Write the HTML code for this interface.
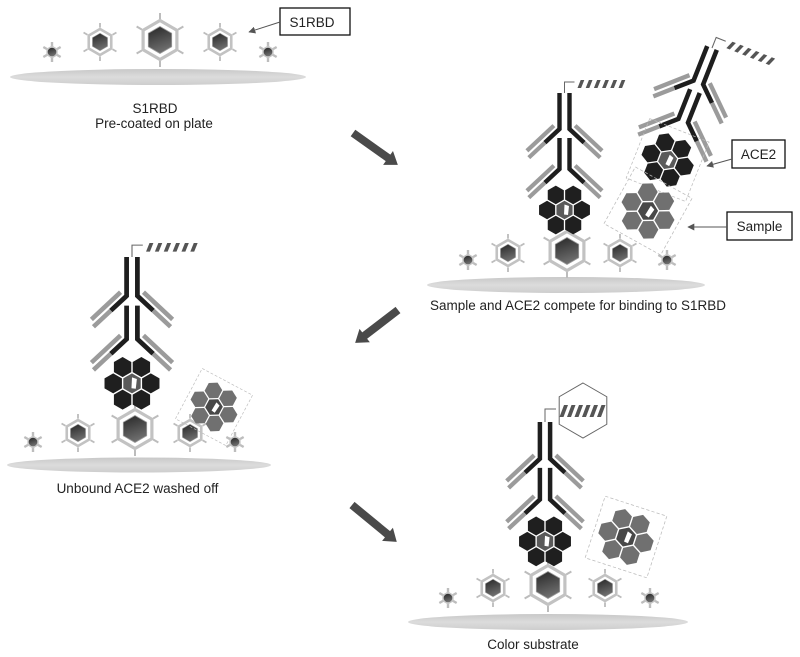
<!DOCTYPE html>
<html><head><meta charset="utf-8"><style>
html,body{margin:0;padding:0;background:#fff;}
svg{display:block;}
text{font-family:"Liberation Sans",Arial,sans-serif;fill:#222;}
</style></head><body>
<svg width="800" height="657" viewBox="0 0 800 657" xmlns="http://www.w3.org/2000/svg" xmlns:xlink="http://www.w3.org/1999/xlink">
<defs>
  <linearGradient id="dk" x1="0" y1="0" x2="0.3" y2="1">
    <stop offset="0" stop-color="#262626"/><stop offset="1" stop-color="#6e6e6e"/>
  </linearGradient>
  <linearGradient id="pl" x1="0" y1="0" x2="0" y2="1">
    <stop offset="0" stop-color="#c8c8c8"/><stop offset="0.5" stop-color="#dcdcdc"/><stop offset="1" stop-color="#cdcdcd"/>
  </linearGradient>
  <marker id="ah" viewBox="0 0 10 10" refX="9" refY="5" markerWidth="7" markerHeight="7" orient="auto" markerUnits="userSpaceOnUse">
    <path d="M0,0 L10,5 L0,10 z" fill="#555"/>
  </marker>

  <!-- large S1RBD -->
  <g id="L">
    <g stroke="#bcbcbc" stroke-width="2">
      <line x1="0" y1="-21" x2="0" y2="-27"/>
      <line x1="18.19" y1="-10.5" x2="23.38" y2="-13.5"/>
      <line x1="18.19" y1="10.5" x2="23.38" y2="13.5"/>
      <line x1="0" y1="21" x2="0" y2="27"/>
      <line x1="-18.19" y1="10.5" x2="-23.38" y2="13.5"/>
      <line x1="-18.19" y1="-10.5" x2="-23.38" y2="-13.5"/>
    </g>
    <polygon points="0,-19.5 16.89,-9.75 16.89,9.75 0,19.5 -16.89,9.75 -16.89,-9.75" fill="none" stroke="#c2c2c2" stroke-width="3.2"/>
    <polygon points="0,-13.5 11.69,-6.75 11.69,6.75 0,13.5 -11.69,6.75 -11.69,-6.75" fill="url(#dk)" stroke="#9a9a9a" stroke-width="0.8"/>
  </g>
  <!-- medium -->
  <g id="M">
    <g stroke="#bcbcbc" stroke-width="1.8">
      <line x1="0" y1="-14.5" x2="0" y2="-19"/>
      <line x1="12.56" y1="-7.25" x2="16.45" y2="-9.5"/>
      <line x1="12.56" y1="7.25" x2="16.45" y2="9.5"/>
      <line x1="0" y1="14.5" x2="0" y2="19"/>
      <line x1="-12.56" y1="7.25" x2="-16.45" y2="9.5"/>
      <line x1="-12.56" y1="-7.25" x2="-16.45" y2="-9.5"/>
    </g>
    <polygon points="0,-13 11.26,-6.5 11.26,6.5 0,13 -11.26,6.5 -11.26,-6.5" fill="none" stroke="#c2c2c2" stroke-width="2.6"/>
    <polygon points="0,-8.7 7.53,-4.35 7.53,4.35 0,8.7 -7.53,4.35 -7.53,-4.35" fill="url(#dk)" stroke="#9a9a9a" stroke-width="0.6"/>
  </g>
  <!-- small -->
  <g id="S">
    <g stroke="#bdbdbd" stroke-width="2.4">
      <line x1="0" y1="-10" x2="0" y2="10"/>
      <line x1="-8.66" y1="-5" x2="8.66" y2="5"/>
      <line x1="-8.66" y1="5" x2="8.66" y2="-5"/>
    </g>
    <polygon points="0,-6.5 5.63,-3.25 5.63,3.25 0,6.5 -5.63,3.25 -5.63,-3.25" fill="#c6c6c6"/>
    <circle r="4.3" fill="url(#dk)"/>
  </g>

  <polygon id="hx" points="0,-9.3 8.05,-4.65 8.05,4.65 0,9.3 -8.05,4.65 -8.05,-4.65"/>
  <!-- ACE2 cluster -->
  <g id="ace">
    <g fill="#1f1f1f">
      <use xlink:href="#hx" x="-8.7" y="-15.07"/>
      <use xlink:href="#hx" x="8.7" y="-15.07"/>
      <use xlink:href="#hx" x="-17.4" y="0"/>
      <use xlink:href="#hx" x="17.4" y="0"/>
      <use xlink:href="#hx" x="-8.7" y="15.07"/>
      <use xlink:href="#hx" x="8.7" y="15.07"/>
    </g>
    <use xlink:href="#hx" fill="#5a5a5a"/>
    <polygon points="0,-5.5 4.5,-4 3.5,5 -0.5,4.5" fill="#fff"/>
  </g>
  <!-- Sample cluster -->
  <g id="smp">
    <g fill="#707070">
      <use xlink:href="#hx" x="-8.7" y="-15.07"/>
      <use xlink:href="#hx" x="8.7" y="-15.07"/>
      <use xlink:href="#hx" x="-17.4" y="0"/>
      <use xlink:href="#hx" x="17.4" y="0"/>
      <use xlink:href="#hx" x="-8.7" y="15.07"/>
      <use xlink:href="#hx" x="8.7" y="15.07"/>
    </g>
    <use xlink:href="#hx" fill="#484848"/>
    <polygon points="0,-5.5 4.5,-4 3.5,5 -0.5,4.5" fill="#fff"/>
  </g>

  <!-- antibody half (left side) -->
  <g id="half">
    <polyline points="-5,0 -5,36 -19.6,49.6" stroke="#1e1e1e" stroke-width="4.4" fill="none"/>
    <line x1="-19.6" y1="49.6" x2="-35.7" y2="64.6" stroke="#9b9b9b" stroke-width="4.2"/>
    <line x1="-10.6" y1="32.6" x2="-37.6" y2="57.8" stroke="#9b9b9b" stroke-width="4.2"/>
    <polyline points="-5,45 -5,76 -19.6,89.6" stroke="#1e1e1e" stroke-width="4.4" fill="none"/>
    <line x1="-19.6" y1="89.6" x2="-35.7" y2="104.6" stroke="#9b9b9b" stroke-width="4.2"/>
    <line x1="-10.6" y1="72.6" x2="-37.6" y2="97.8" stroke="#9b9b9b" stroke-width="4.2"/>
  </g>
  <g id="abbody">
    <use xlink:href="#half"/>
    <use xlink:href="#half" transform="scale(-1,1)"/>
    <use xlink:href="#ace" x="0" y="117"/>
  </g>
  <g id="hatch" fill="#555">
    <polygon points="16.2,-13 19.8,-13 16.6,-5 13,-5"/>
    <polygon points="24.4,-13 28,-13 24.8,-5 21.2,-5"/>
    <polygon points="32.6,-13 36.2,-13 33,-5 29.4,-5"/>
    <polygon points="40.8,-13 44.4,-13 41.2,-5 37.6,-5"/>
    <polygon points="49,-13 52.6,-13 49.4,-5 45.8,-5"/>
    <polygon points="57.2,-13 60.8,-13 57.6,-5 54,-5"/>
  </g>
  <g id="ab">
    <path d="M0,0 V-11 H10" stroke="#666" stroke-width="1" fill="none"/>
    <use xlink:href="#hatch"/>
    <use xlink:href="#abbody"/>
  </g>
</defs>

<!-- ===== Panel 1: top-left ===== -->
<ellipse cx="158" cy="77" rx="148" ry="8" fill="url(#pl)"/>
<use xlink:href="#S" x="52" y="52"/>
<use xlink:href="#M" x="100" y="42"/>
<use xlink:href="#L" x="160" y="40"/>
<use xlink:href="#M" x="220" y="42"/>
<use xlink:href="#S" x="268" y="52"/>
<rect x="280" y="8" width="70" height="27" fill="#fff" stroke="#111" stroke-width="1.3"/>
<text x="312" y="27" font-size="13.5" text-anchor="middle">S1RBD</text>
<line x1="280" y1="22" x2="249" y2="32" stroke="#555" stroke-width="1" marker-end="url(#ah)"/>
<text x="155" y="113" font-size="13.5" text-anchor="middle">S1RBD</text>
<text x="154" y="128" font-size="13.5" text-anchor="middle">Pre-coated on plate</text>

<!-- Arrow 1 -->
<polygon transform="translate(353,133) rotate(35.4)" points="0,-4 43,-4 43,-8.5 55,0 43,8.5 43,4 0,4" fill="#4a4a4a"/>

<!-- ===== Panel 2: top-right ===== -->
<ellipse cx="566" cy="285" rx="139" ry="8" fill="url(#pl)"/>
<use xlink:href="#S" x="468" y="260"/>
<use xlink:href="#M" x="508" y="253"/>
<use xlink:href="#L" x="567" y="251"/>
<use xlink:href="#M" x="620" y="253"/>
<use xlink:href="#S" x="667" y="260"/>
<use xlink:href="#ab" transform="translate(564.5,93)"/>
<g transform="translate(712,48) rotate(21.6) scale(1.03)">
  <use xlink:href="#ab"/>
  <rect x="-31" y="86" width="62" height="62" fill="none" stroke="#bbb" stroke-width="0.7" stroke-dasharray="3,2"/>
</g>
<g transform="translate(648,211) rotate(29) scale(1.08)">
  <rect x="-30" y="-30" width="60" height="60" fill="none" stroke="#bbb" stroke-width="0.7" stroke-dasharray="3,2"/>
  <use xlink:href="#smp"/>
</g>
<rect x="732" y="140" width="53" height="28" fill="#fff" stroke="#111" stroke-width="1.3"/>
<text x="758.5" y="159" font-size="13.5" text-anchor="middle">ACE2</text>
<line x1="732" y1="159" x2="707" y2="166" stroke="#555" stroke-width="1" marker-end="url(#ah)"/>
<rect x="727" y="212" width="65" height="28" fill="#fff" stroke="#111" stroke-width="1.3"/>
<text x="759.5" y="231" font-size="13.5" text-anchor="middle">Sample</text>
<line x1="727" y1="227" x2="688" y2="227" stroke="#555" stroke-width="1" marker-end="url(#ah)"/>
<text x="578" y="310" font-size="13.5" text-anchor="middle" textLength="296" lengthAdjust="spacingAndGlyphs">Sample and ACE2 compete for binding to S1RBD</text>

<!-- Arrow 2 -->
<polygon transform="translate(398,310) rotate(142.5)" points="0,-4 42,-4 42,-8.5 54,0 42,8.5 42,4 0,4" fill="#4a4a4a"/>

<!-- ===== Panel 3: middle-left ===== -->
<ellipse cx="139" cy="465" rx="132" ry="7.5" fill="url(#pl)"/>
<use xlink:href="#S" x="33" y="442"/>
<use xlink:href="#M" x="78" y="433"/>
<use xlink:href="#L" x="135" y="429"/>
<use xlink:href="#M" x="190" y="433"/>
<use xlink:href="#S" x="235" y="442"/>
<use xlink:href="#ab" transform="translate(132,257) scale(1.08)"/>
<g transform="translate(214,407) rotate(28) scale(0.95)">
  <rect x="-30" y="-30" width="60" height="60" fill="none" stroke="#bbb" stroke-width="0.7" stroke-dasharray="3,2"/>
  <use xlink:href="#smp"/>
</g>
<text x="137.5" y="493" font-size="13.5" text-anchor="middle">Unbound ACE2 washed off</text>

<!-- Arrow 3 -->
<polygon transform="translate(352,505) rotate(39.5)" points="0,-4 46,-4 46,-8.5 58,0 46,8.5 46,4 0,4" fill="#4a4a4a"/>

<!-- ===== Panel 4: bottom ===== -->
<ellipse cx="548" cy="622" rx="140" ry="8" fill="url(#pl)"/>
<use xlink:href="#S" x="448" y="598"/>
<use xlink:href="#M" x="493" y="588"/>
<use xlink:href="#L" x="548" y="585"/>
<use xlink:href="#M" x="605" y="588"/>
<use xlink:href="#S" x="650" y="598"/>
<polygon points="583,383 606.8,396.75 606.8,424.25 583,438 559.2,424.25 559.2,396.75" fill="#fff" stroke="#666" stroke-width="1"/>
<path d="M545,422 V409 H556" stroke="#666" stroke-width="1" fill="none"/>
<g fill="#555">
  <polygon points="564,405 568,405 563.5,417 559.5,417"/>
  <polygon points="571.5,405 575.5,405 571,417 567,417"/>
  <polygon points="579,405 583,405 578.5,417 574.5,417"/>
  <polygon points="586.5,405 590.5,405 586,417 582,417"/>
  <polygon points="594,405 598,405 593.5,417 589.5,417"/>
  <polygon points="601.5,405 605.5,405 601,417 597,417"/>
</g>
<use xlink:href="#abbody" transform="translate(545,422) scale(1.02)"/>
<g transform="translate(626,537) rotate(18) scale(1.08)">
  <rect x="-30" y="-30" width="60" height="60" fill="none" stroke="#bbb" stroke-width="0.7" stroke-dasharray="3,2"/>
  <use xlink:href="#smp"/>
</g>
<text x="533" y="649" font-size="13.5" text-anchor="middle">Color substrate</text>
</svg>
</body></html>
